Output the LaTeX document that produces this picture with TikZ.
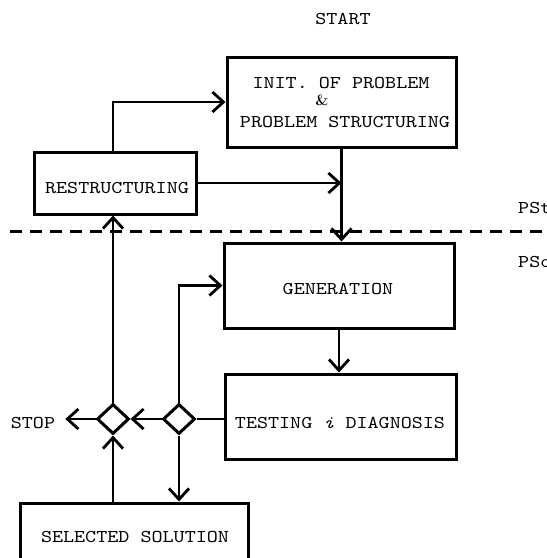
\documentclass[tikz,border=0pt]{standalone}
\usepackage{fontspec}
\setmonofont{lmmono10-regular.otf}[ItalicFont=lmmono10-italic.otf, FakeStretch=1.17]
\usetikzlibrary{arrows.meta,shapes.geometric}

\begin{document}
\begin{tikzpicture}[x=1pt,y=-1pt,
  box/.style={draw, line width=3pt, inner sep=0pt},
  lbl/.style={font=\ttfamily\fontsize{18}{20}\selectfont, inner sep=0pt},
  conn/.style={line width=2.8pt},
  arr/.style={conn, -{Straight Barb[length=11pt,width=20pt]}},
  gate/.style={draw, diamond, line width=3pt, inner sep=0pt,
               minimum width=32pt, minimum height=30pt},
  separator/.style={line width=3pt, dash pattern=on 12pt off 8pt}]

\useasboundingbox (0,0) rectangle (547,558);
\clip (0,0) rectangle (547,558);

% boxes
\node[box, minimum width=229pt, minimum height=90pt] (init)  at (341.5,102) {};
\node[box, minimum width=162pt, minimum height=62pt] (restr) at (115,183) {};
\node[box, minimum width=230pt, minimum height=85pt] (gen)   at (339,285.5) {};
\node[box, minimum width=231pt, minimum height=85pt] (test)  at (340.5,416.5) {};
\node[box, minimum width=228pt, minimum height=70pt] (sel)   at (134,538) {};

% decision points
\node[gate] (d1) at (113,419) {};
\node[gate] (d2) at (179,419) {};

% texts
\node[lbl] (start)   at (343,19)  {START};
\node[lbl] (initA)   at (341,83)  {INIT. OF PROBLEM};
\node[inner sep=0pt, font=\bfseries\fontsize{15}{15}\selectfont] (amp) at (322,100) {\&};
\node[lbl] (initB)   at (345,122) {PROBLEM STRUCTURING};
\node[lbl] (restrT)  at (117,188) {RESTRUCTURING};
\node[lbl] (genT)    at (338,289) {GENERATION};
\node[lbl] (testT)   at (340,423) {TESTING {\itshape i} DIAGNOSIS};
\node[lbl] (selT)    at (135,537) {SELECTED SOLUTION};
\node[lbl, inner xsep=10pt] (stop) at (33,423) {STOP};
\node[lbl, anchor=west] (pst) at (518,208) {PSt};
\node[lbl, anchor=west] (pso) at (518,262) {PSo};

% phase separator
\coordinate (sepL) at (10,231);
\coordinate (sepR) at (547,231);
\draw[separator] (sepL) -- (sepR);

% connectors
\draw[arr] (d1.north |- restr.north) |- (init.west);
\draw[arr] (restr.east) -- (restr.east -| init.south);
\draw[arr] (init.south) -- (init.south |- gen.north);
\draw[arr] (gen.south) -- (gen.south |- test.north);
\draw[conn] (test.west |- d2.east) -- (d2.east);
\draw[arr] (d2.west) -- (d1.east);
\draw[arr] (d1.west) -- (stop.east |- d1.west);
\draw[arr] (d1.north) -- (d1.north |- restr.south);
\draw[arr] (d2.north) |- (gen.west);
\draw[arr] (d2.south) -- (d2.south |- sel.north);
\draw[arr] (d1.south |- sel.north) -- (d1.south);

\end{tikzpicture}
\end{document}
